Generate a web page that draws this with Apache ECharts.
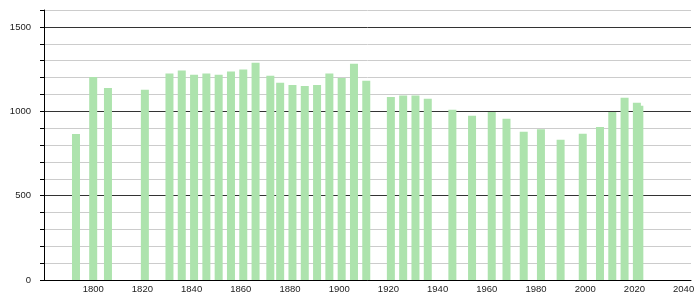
<!DOCTYPE html>
<html><head><meta charset="utf-8">
<script src="https://cdn.jsdelivr.net/npm/echarts@6/dist/echarts.min.js"></script>
<style>html,body{margin:0;padding:0;background:#fff}#c{width:700px;height:300px}</style>
</head><body><div id="c"></div>
<script>
const years = [1793,1800,1806,1821,1831,1836,1841,1846,1851,1856,1861,1866,1872,1876,1881,1886,1891,1896,1901,1906,1911,1921,1926,1931,1936,1946,1954,1962,1968,1975,1982,1990,1999,2006,2011,2016,2021,2022];
const population = [865,1203,1138,1128,1223,1241,1217,1223,1217,1235,1247,1288,1211,1169,1156,1150,1156,1223,1197,1282,1181,1084,1094,1094,1074,1009,973,995,956,878,894,831,867,906,995,1080,1051,1033];
const yTickLabels = [0,500,1000,1500];

const chart = echarts.init(document.getElementById('c'), null, {renderer:'canvas'});
const data = years.map((y,i)=>[y,population[i]]).reverse();
chart.setOption({
  animation:false,
  grid:{left:44,right:9,top:10,bottom:20,containLabel:false},
  xAxis:{type:'value',min:1780,max:2043,interval:20,
    axisLine:{show:true,lineStyle:{color:'#000',width:1}},
    axisTick:{show:false},
    splitLine:{show:false},
    axisLabel:{showMinLabel:false,showMaxLabel:false,color:'#222',fontSize:9.5,fontFamily:'Liberation Sans, Arial, sans-serif',margin:4,
      formatter:v=>String(v)}
  },
  yAxis:{type:'value',min:0,max:1600,interval:100,
    axisLine:{show:true,lineStyle:{color:'#000',width:1}},
    axisTick:{show:true,length:4,lineStyle:{color:'#000'}},
    splitLine:{show:true,lineStyle:{color:['#333','#ccc','#ccc','#ccc','#ccc'],width:1}},
    axisLabel:{color:'#222',fontSize:9.5,fontFamily:'Liberation Sans, Arial, sans-serif',margin:13,
      formatter:v=>yTickLabels.includes(v)?String(v):''}
  },
  series:[{type:'bar',data:data,barWidth:8,itemStyle:{color:'#ade3ad'},z:3}]
});
</script></body></html>
